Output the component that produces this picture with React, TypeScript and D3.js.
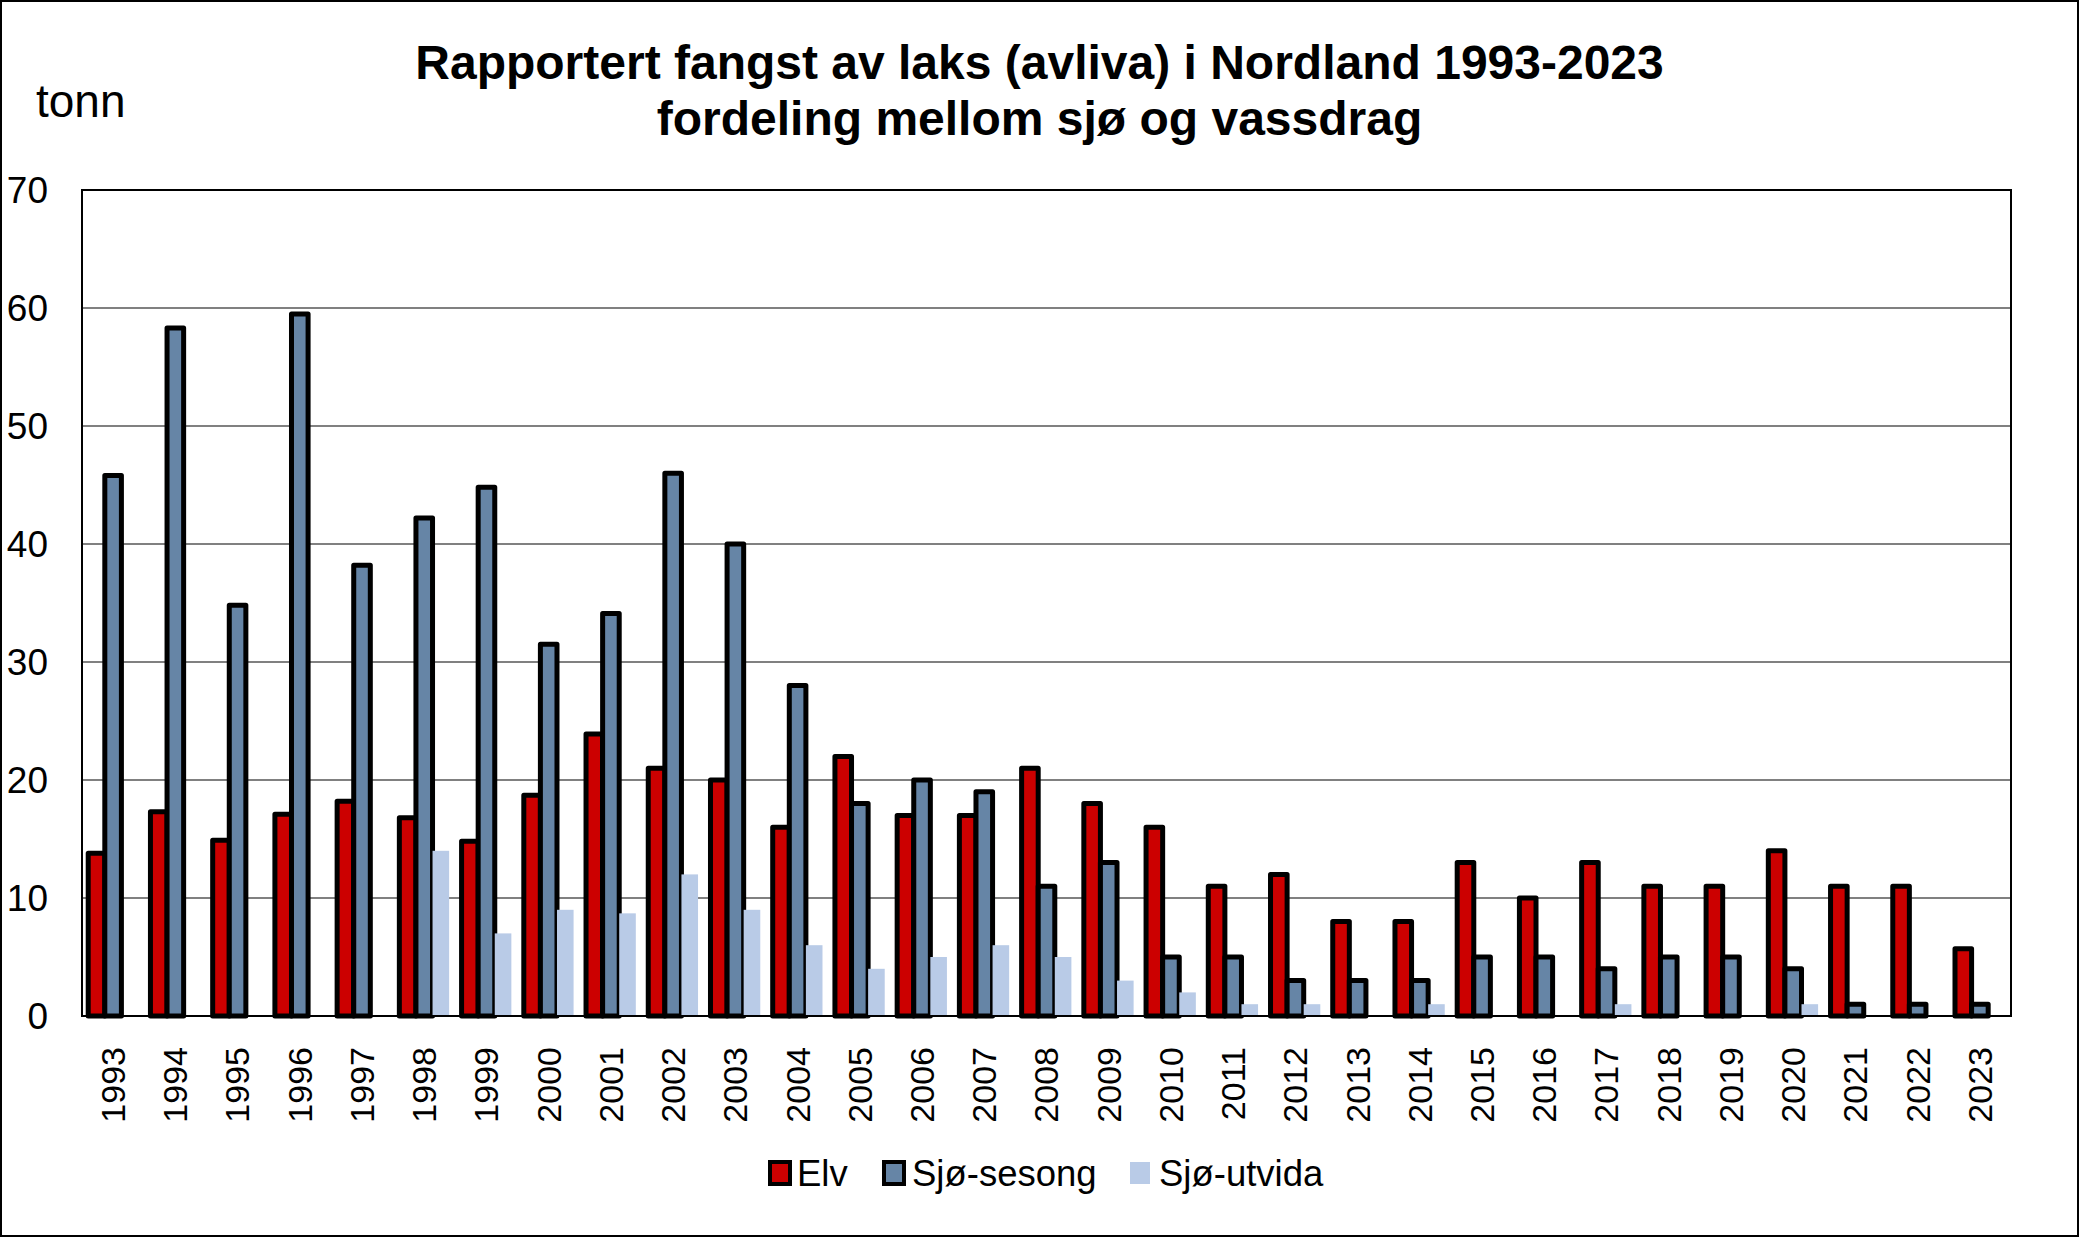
import React from 'react';
import * as d3 from 'd3';

// Data (tonn)
const years = [
  1993, 1994, 1995, 1996, 1997, 1998, 1999, 2000, 2001, 2002, 2003, 2004, 2005, 2006, 2007, 2008,
  2009, 2010, 2011, 2012, 2013, 2014, 2015, 2016, 2017, 2018, 2019, 2020, 2021, 2022, 2023,
];
const elv = [13.8, 17.3, 14.9, 17.1, 18.2, 16.8, 14.8, 18.7, 23.9, 21, 20, 16, 22, 17, 17, 21, 18, 16, 11, 12, 8, 8, 13, 10, 13, 11, 11, 14, 11, 11, 5.7];
const sjoSesong = [45.8, 58.3, 34.8, 59.5, 38.2, 42.2, 44.8, 31.5, 34.1, 46, 40, 28, 18, 20, 19, 11, 13, 5, 5, 3, 3, 3, 5, 5, 4, 5, 5, 4, 1, 1, 1];
const sjoUtvida = [0, 0, 0, 0, 0, 14, 7, 9, 8.7, 12, 9, 6, 4, 5, 6, 5, 3, 2, 1, 1, 0, 1, 0, 0, 1, 0, 0, 1, 0, 0, 0];
const yTicks = [0, 10, 20, 30, 40, 50, 60, 70];

const seriesNames = ['Elv', 'Sjø-sesong', 'Sjø-utvida'];
const seriesValues = [elv, sjoSesong, sjoUtvida];
const seriesColors = ['#CC0000', '#6685A6', '#B9CBE7'];
const seriesStroked = [true, true, false];

const W = 2079, H = 1237;
const plot = { left: 82, right: 2011, top: 190, bottom: 1016 };
const font = '"Liberation Sans", Arial, sans-serif';

export default function App() {
  const x0 = d3.scaleBand<number>().domain(years).range([plot.left, plot.right]).paddingInner(0.2).paddingOuter(0.1);
  const x1 = d3.scaleBand<string>().domain(seriesNames).range([0, x0.bandwidth()]);
  const y = d3.scaleLinear().domain([0, 70]).range([plot.bottom, plot.top]);

  const legendItems = [
    { name: 'Elv', mx: 770, tx: 797 },
    { name: 'Sjø-sesong', mx: 884, tx: 912 },
    { name: 'Sjø-utvida', mx: 1130, tx: 1159 },
  ];

  return (
    <svg width={W} height={H} style={{ position: 'absolute', left: 0, top: 0, background: '#fff' }} fontFamily={font}>
      <rect x={1} y={1} width={W - 2} height={H - 2} fill="#fff" stroke="#000" strokeWidth={2} />

      {/* title */}
      <text x={W / 2} y={79} textAnchor="middle" fontSize={48} fontWeight="bold">Rapportert fangst av laks (avliva) i Nordland 1993-2023</text>
      <text x={W / 2} y={135} textAnchor="middle" fontSize={48} fontWeight="bold">fordeling mellom sjø og vassdrag</text>
      <text x={36} y={117} fontSize={46}>tonn</text>

      {/* gridlines + y ticks */}
      {yTicks.map(t => (
        <g key={t}>
          {t > 0 && t < 70 && <line x1={plot.left} x2={plot.right} y1={y(t)} y2={y(t)} stroke="#808080" strokeWidth={2} />}
          <text x={48} y={y(t)} dy="0.35em" textAnchor="end" fontSize={37}>{t}</text>
        </g>
      ))}

      {/* bars */}
      {seriesValues.map((vals, si) => (
        <g key={si}>
          {vals.map((v, i) => v > 0 && (
            <rect
              key={i}
              x={(x0(years[i]) ?? 0) + (x1(seriesNames[si]) ?? 0)}
              y={y(v)}
              width={x1.bandwidth()}
              height={y(0) - y(v)}
              fill={seriesColors[si]}
              stroke={seriesStroked[si] ? '#000' : 'none'}
              strokeWidth={5}
              strokeLinejoin="round"
            />
          ))}
        </g>
      ))}

      {/* plot frame */}
      <rect x={plot.left} y={plot.top} width={plot.right - plot.left} height={plot.bottom - plot.top} fill="none" stroke="#000" strokeWidth={2} />

      {/* x labels */}
      {years.map(yr => {
        const cx = (x0(yr) ?? 0) + x0.bandwidth() / 2;
        return (
          <text key={yr} transform={`translate(${cx},1047) rotate(-90)`} textAnchor="end" dy="0.35em" fontSize={34}>{yr}</text>
        );
      })}

      {/* legend */}
      {legendItems.map((it, i) => (
        <g key={it.name}>
          <rect x={it.mx} y={1162} width={20} height={22} fill={seriesColors[i]} stroke={seriesStroked[i] ? '#000' : 'none'} strokeWidth={4} />
          <text x={it.tx} y={1173} dy="0.35em" fontSize={36.5}>{it.name}</text>
        </g>
      ))}
    </svg>
  );
}
